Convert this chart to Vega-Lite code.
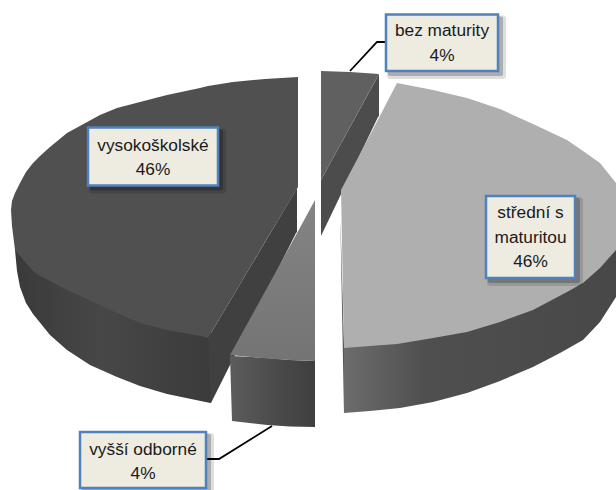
{
"$schema":"https://vega.github.io/schema/vega-lite/v6.json",
"width":616,"height":490,"padding":0,"autosize":{"type":"none"},"background":"white",
"config":{"view":{"stroke":null}},
"encoding":{
 "x":{"field":"x","type":"quantitative","axis":null,"scale":{"domain":[0,616],"nice":false,"zero":false}},
 "y":{"field":"y","type":"quantitative","axis":null,"scale":{"domain":[490,0],"nice":false,"zero":false}}
},
"layer":[
{"data":{"values":[{"piece":"vysokoškolské","x":15,"y":246,"y2":250},{"piece":"vysokoškolské","x":17,"y":248,"y2":271},{"piece":"vysokoškolské","x":20,"y":250,"y2":287},{"piece":"vysokoškolské","x":26,"y":258,"y2":303},{"piece":"vysokoškolské","x":33,"y":265,"y2":314},{"piece":"vysokoškolské","x":50,"y":275,"y2":335},{"piece":"vysokoškolské","x":67,"y":285,"y2":350},{"piece":"vysokoškolské","x":90,"y":297,"y2":365},{"piece":"vysokoškolské","x":117,"y":308,"y2":377},{"piece":"vysokoškolské","x":140,"y":318,"y2":386},{"piece":"vysokoškolské","x":167,"y":325,"y2":394},{"piece":"vysokoškolské","x":208,"y":333,"y2":402.5},{"piece":"vysokoškolské","x":211,"y":330,"y2":403}]},
 "mark":{"type":"area","color":{"x1":0,"x2":1,"y1":0,"y2":0,"gradient":"linear","stops":[{"offset":0,"color":"#3a3a3a"},{"offset":0.45,"color":"#474747"},{"offset":1,"color":"#3b3b3b"}]}},
 "encoding":{"y2":{"field":"y2"}}},
{"data":{"values":[{"piece":"vysokoškolské","x":208,"y":338,"y2":338},{"piece":"vysokoškolské","x":211,"y":333,"y2":403},{"piece":"vysokoškolské","x":296,"y":190,"y2":233},{"piece":"vysokoškolské","x":297,"y":188,"y2":232}]},
 "mark":{"type":"area","color":"#404040"},"encoding":{"y2":{"field":"y2"}}},
{"data":{"values":[{"piece":"vysokoškolské","x":11,"y":210,"y2":210},{"piece":"vysokoškolské","x":12,"y":201,"y2":226},{"piece":"vysokoškolské","x":15,"y":193,"y2":250},{"piece":"vysokoškolské","x":20,"y":183,"y2":256},{"piece":"vysokoškolské","x":26,"y":172,"y2":263},{"piece":"vysokoškolské","x":33,"y":163,"y2":271},{"piece":"vysokoškolské","x":40,"y":156,"y2":276},{"piece":"vysokoškolské","x":50,"y":147,"y2":281},{"piece":"vysokoškolské","x":67,"y":133,"y2":290},{"piece":"vysokoškolské","x":100,"y":115,"y2":305},{"piece":"vysokoškolské","x":117,"y":108,"y2":313},{"piece":"vysokoškolské","x":140,"y":102,"y2":323},{"piece":"vysokoškolské","x":167,"y":95,"y2":330},{"piece":"vysokoškolské","x":200,"y":88,"y2":336},{"piece":"vysokoškolské","x":208,"y":86,"y2":338},{"piece":"vysokoškolské","x":233,"y":82,"y2":296},{"piece":"vysokoškolské","x":265,"y":79,"y2":242},{"piece":"vysokoškolské","x":298,"y":77,"y2":187}]},
 "mark":{"type":"area","color":"#505050"},"encoding":{"y2":{"field":"y2"}}},
{"data":{"values":[{"piece":"vyšší odborné","x":230,"y":355,"y2":356},{"piece":"vyšší odborné","x":232,"y":356,"y2":421},{"piece":"vyšší odborné","x":267,"y":358,"y2":425},{"piece":"vyšší odborné","x":290,"y":360,"y2":426.5},{"piece":"vyšší odborné","x":315,"y":361,"y2":427}]},
 "mark":{"type":"area","color":{"x1":0,"x2":1,"y1":0,"y2":0,"gradient":"linear","stops":[{"offset":0,"color":"#5c5c5c"},{"offset":0.5,"color":"#4c4c4c"},{"offset":1,"color":"#3f3f3f"}]}},
 "encoding":{"y2":{"field":"y2"}}},
{"data":{"values":[{"piece":"vyšší odborné","x":230,"y":355,"y2":355},{"piece":"vyšší odborné","x":267,"y":288,"y2":358.5},{"piece":"vyšší odborné","x":290,"y":246,"y2":360},{"piece":"vyšší odborné","x":315,"y":200,"y2":361}]},
 "mark":{"type":"area","color":{"x1":0,"x2":0,"y1":0,"y2":1,"gradient":"linear","stops":[{"offset":0,"color":"#848484"},{"offset":1,"color":"#747474"}]}},
 "encoding":{"y2":{"field":"y2"}}},
{"data":{"values":[{"piece":"bez maturity","x":321,"y":180,"y2":236},{"piece":"bez maturity","x":378,"y":76,"y2":117},{"piece":"bez maturity","x":379,"y":74,"y2":116}]},
 "mark":{"type":"area","color":"#4c4c4c"},"encoding":{"y2":{"field":"y2"}}},
{"data":{"values":[{"piece":"bez maturity","x":321,"y":71,"y2":180},{"piece":"bez maturity","x":350,"y":72,"y2":127},{"piece":"bez maturity","x":379,"y":74,"y2":74}]},
 "mark":{"type":"area","color":"#606060"},"encoding":{"y2":{"field":"y2"}}},
{"data":{"values":[{"piece":"střední s maturitou","x":340.5,"y":222,"y2":228},{"piece":"střední s maturitou","x":344,"y":345,"y2":413}]},
 "mark":{"type":"area","color":"#555555"},"encoding":{"y2":{"field":"y2"}}},
{"data":{"values":[{"piece":"střední s maturitou","x":344,"y":344,"y2":413},{"piece":"střední s maturitou","x":370,"y":342,"y2":411},{"piece":"střední s maturitou","x":400,"y":339,"y2":408},{"piece":"střední s maturitou","x":433,"y":334,"y2":402},{"piece":"střední s maturitou","x":467,"y":328,"y2":393},{"piece":"střední s maturitou","x":500,"y":318,"y2":381},{"piece":"střední s maturitou","x":533,"y":306,"y2":367},{"piece":"střední s maturitou","x":560,"y":292,"y2":353},{"piece":"střední s maturitou","x":583,"y":279,"y2":340},{"piece":"střední s maturitou","x":600,"y":264,"y2":322},{"piece":"střední s maturitou","x":616,"y":246,"y2":297}]},
 "mark":{"type":"area","color":{"x1":0,"x2":1,"y1":0,"y2":0,"gradient":"linear","stops":[{"offset":0,"color":"#6c6c6c"},{"offset":0.3,"color":"#4f4f4f"},{"offset":1,"color":"#484848"}]}},
 "encoding":{"y2":{"field":"y2"}}},
{"data":{"values":[{"piece":"střední s maturitou","x":341,"y":190,"y2":190},{"piece":"střední s maturitou","x":344,"y":184.3,"y2":348},{"piece":"střední s maturitou","x":370,"y":135,"y2":346},{"piece":"střední s maturitou","x":397,"y":83,"y2":344},{"piece":"střední s maturitou","x":433,"y":90,"y2":338},{"piece":"střední s maturitou","x":467,"y":98,"y2":332},{"piece":"střední s maturitou","x":500,"y":109,"y2":322},{"piece":"střední s maturitou","x":533,"y":124,"y2":310},{"piece":"střední s maturitou","x":567,"y":140,"y2":292},{"piece":"střední s maturitou","x":583,"y":151,"y2":283},{"piece":"střední s maturitou","x":600,"y":163,"y2":268},{"piece":"střední s maturitou","x":616,"y":183,"y2":250}]},
 "mark":{"type":"area","color":"#afafaf"},"encoding":{"y2":{"field":"y2"}}},
{"data":{"values":[{"leader":"bez maturity","x":350,"y":71,"k":1},{"leader":"bez maturity","x":377,"y":42,"k":2},{"leader":"bez maturity","x":386,"y":42,"k":3},{"leader":"vyšší odborné","x":272,"y":426,"k":1},{"leader":"vyšší odborné","x":219,"y":459,"k":2},{"leader":"vyšší odborné","x":206,"y":459,"k":3}]},
 "mark":{"type":"line","color":"#000000","strokeWidth":1.8},
 "encoding":{"detail":{"field":"leader"},"order":{"field":"k"}}},
{"data":{"name":"boxes","values":[
 {"name":"bez maturity","x":386,"x2":498,"y":14.5,"y2":71,"cx":442,"cy":31,"label":"bez maturity\n4%"},
 {"name":"střední s maturitou","x":486,"x2":575,"y":196,"y2":278,"cx":530.5,"cy":213,"label":"střední s\nmaturitou\n46%"},
 {"name":"vysokoškolské","x":88,"x2":218,"y":127.5,"y2":185.5,"cx":153,"cy":145.5,"label":"vysokoškolské\n46%"},
 {"name":"vyšší odborné","x":80,"x2":206,"y":432,"y2":488,"cx":143,"cy":449.5,"label":"vyšší odborné\n4%"}]},
 "layer":[
  {"mark":{"type":"rect","color":"#000000","opacity":0.13,"xOffset":1,"x2Offset":8,"yOffset":1,"y2Offset":8,"cornerRadius":3},"encoding":{"x2":{"field":"x2"},"y2":{"field":"y2"}}},
  {"mark":{"type":"rect","color":"#000000","opacity":0.22,"xOffset":2,"x2Offset":5,"yOffset":2,"y2Offset":5,"cornerRadius":2},"encoding":{"x2":{"field":"x2"},"y2":{"field":"y2"}}},
  {"mark":{"type":"rect","fill":"#eeece1","stroke":"#4f81bd","strokeWidth":2.5},"encoding":{"x2":{"field":"x2"},"y2":{"field":"y2"}}},
  {"mark":{"type":"text","font":"Liberation Sans","fontSize":17.3,"color":"#1a1a1a","lineBreak":"\n","lineHeight":24.5,"align":"center","baseline":"middle"},
   "encoding":{"x":{"field":"cx","type":"quantitative"},"y":{"field":"cy","type":"quantitative"},"text":{"field":"label"}}}
 ]}
]}
